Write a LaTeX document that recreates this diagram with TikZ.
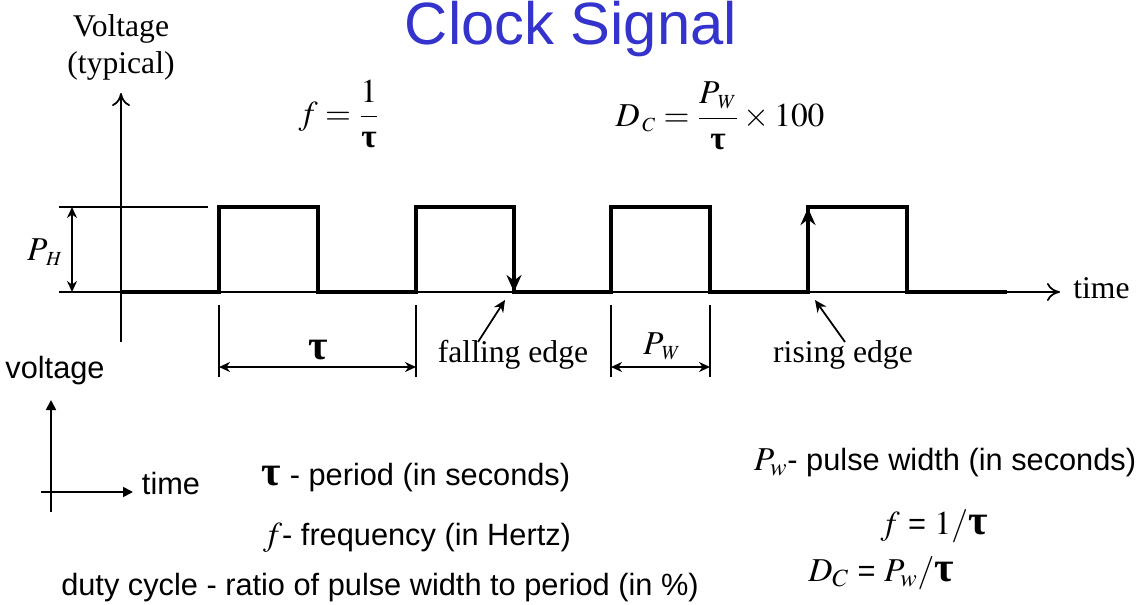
\documentclass[tikz,border=0pt]{standalone}
\usepackage{amsmath}
\usepackage{mathptmx}
\usepackage{fontspec}
\setmainfont{Liberation Serif}
\setsansfont{Liberation Sans}
\usetikzlibrary{arrows.meta,positioning}
\definecolor{titleblue}{HTML}{3434CC}
\tikzset{
  title/.style={font=\sffamily\fontsize{34}{40}\selectfont,text=titleblue,anchor=base},
  serif/.style={font=\fontsize{18}{21}\selectfont,inner sep=0pt},
  mathlbl/.style={font=\fontsize{19}{22}\selectfont,inner sep=0pt},
  note/.style={font=\sffamily\fontsize{17.5}{20}\selectfont,inner sep=0pt},
  signal/.style={line width=2.8pt,line join=miter},
  thin/.style={line width=1pt},
  axis/.style={-{Computer Modern Rightarrow[length=2.6mm,width=3.6mm]},line width=1pt},
  smallaxis/.style={-{Triangle[length=2mm,width=2mm]},line width=1pt},
  pointer/.style={-{Stealth[length=2.4mm,width=2.2mm]},line width=1pt},
  dim/.style={{Stealth[length=2.2mm,width=2mm]}-{Stealth[length=2.2mm,width=2mm]},line width=1pt},
  edgearr/.style={-{Stealth[length=3.4mm,width=3mm]},line width=2.8pt}
}
\newcommand{\rtau}{\text{\rmfamily\bfseries τ}}
\newcommand{\bigtau}{{\fontsize{24}{24}\selectfont\rmfamily\bfseries τ}}

\begin{document}
\begin{tikzpicture}[x=0.02cm,y=-0.02cm]
\path[use as bounding box] (0,0) rectangle (1146,605);
\node[title] (title) at (571,44) {Clock Signal};
% main axes
\node[serif,align=center] (vlabel) at (121,47) {Voltage\\(typical)};
\coordinate (vbot) at (121,342); \coordinate (vtop) at (121,93);
\draw[axis] (vbot) -- (vtop);
\coordinate (hleft) at (59,292); \coordinate (hright) at (1060,292);
\draw[axis] (hleft) -- (hright);
\node[serif,anchor=west] (tlabel) at (1073,288) {time};
\coordinate (topleft) at (59,207); \coordinate (topright) at (208,207);
\draw[thin] (topleft) -- (topright);
% formulas
\node[mathlbl] (ffrac) at (339,114) {$f=\dfrac{1}{\rtau}$};
\node[mathlbl] (dfrac) at (720,116) {$D_{\,\scriptscriptstyle C}=\dfrac{P_{\,\scriptscriptstyle W}}{\rtau}\times 100$};
% waveform
\draw[signal] (121,292) -- (219,292) -- (219,207) -- (318,207) -- (318,292)
  -- (416,292) -- (416,207) -- (514,207) -- (514,292) -- (611,292)
  -- (611,207) -- (710,207) -- (710,292) -- (808,292) -- (808,207)
  -- (907,207) -- (907,292) -- (1007,292);
\coordinate (fallhi) at (514,207); \coordinate (falllo) at (514,292);
\coordinate (riselo) at (808,292); \coordinate (risehi) at (808,208);
\draw[edgearr] (fallhi) -- (falllo);
\draw[edgearr] (riselo) -- (risehi);
% P_H dimension
\coordinate (phtop) at (72,207); \coordinate (phbot) at (72,292);
\draw[dim] (phtop) -- (phbot);
\node[mathlbl] (ph) at (45,252) {$P_{\,\scriptscriptstyle H}$};
% extension lines and dimensions
\foreach \x/\n in {219/a,416/b,611/c,710/d}{
  \coordinate (ext\n) at (\x,367);
  \draw[thin] (\x,305) -- (\x,377);
}
\draw[dim] (exta) -- (extb);
\draw[dim] (extc) -- (extd);
\node (tau) at (318,350) {\bigtau};
\node[mathlbl] (pw) at (662,346) {$P_{\,\scriptscriptstyle W}$};
% edge labels
\node[serif] (fall) at (513,355) {falling edge};
\node[serif] (rise) at (843,355) {rising edge};
\coordinate (fallfoot) at (478,342); \coordinate (fallpt) at (505,300);
\coordinate (risefoot) at (845,342); \coordinate (risept) at (815,300);
\draw[pointer] (fallfoot) -- (fallpt);
\draw[pointer] (risefoot) -- (risept);
% small legend axes
\node[note] (vsmall) at (55,371) {voltage};
\coordinate (sabot) at (51,512); \coordinate (satop) at (51,400);
\coordinate (saleft) at (41,492); \coordinate (saright) at (133,492);
\draw[smallaxis] (sabot) -- (satop);
\draw[smallaxis] (saleft) -- (saright);
\node[note] (tsmall) at (171,484) {time};
% notes
\node[note] (period) at (416,478) {\bigtau{} - period (in seconds)};
\node[note] (freq) at (417,538) {{\fontsize{19}{22}\selectfont$f$}- frequency (in Hertz)};
\node[note] (duty) at (380,588) {duty cycle - ratio of pulse width to period (in \%)};
\node[note] (pwnote) at (945,463) {{\fontsize{19}{22}\selectfont$P_w$}- pulse width (in seconds)};
\node[note] (frel) at (934,526) {{\fontsize{19}{22}\selectfont$f$} = {\fontsize{19}{22}\selectfont$1/$}\bigtau};
\node[note] (drel) at (881,573) {{\fontsize{19}{22}\selectfont$D_C$} = {\fontsize{19}{22}\selectfont$P_w/$}\bigtau};
\end{tikzpicture}
\end{document}
